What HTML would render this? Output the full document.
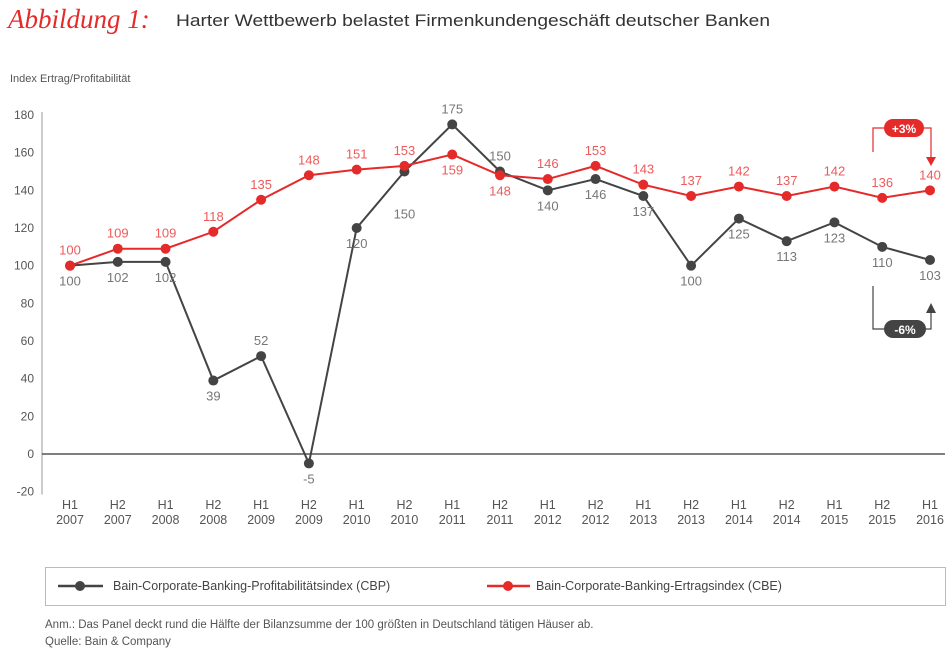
<!DOCTYPE html>
<html><head><meta charset="utf-8"><style>
body{margin:0;background:#fff;width:950px;height:656px;overflow:hidden;font-family:"Liberation Sans",sans-serif;}
</style></head><body>
<svg id="c" width="950" height="656" viewBox="0 0 950 656" xmlns="http://www.w3.org/2000/svg">
<text x="8" y="28" font-family="Liberation Serif,serif" font-style="italic" font-size="27" fill="#e52a2a">Abbildung 1:</text>
<text x="176" y="26" font-size="17" fill="#333" textLength="594" lengthAdjust="spacingAndGlyphs">Harter Wettbewerb belastet Firmenkundengeschäft deutscher Banken</text>
<text x="10" y="82" font-size="11" fill="#555">Index Ertrag/Profitabilität</text>
<g id="axes"></g><g id="series"></g>
<g>
<polyline points="873,152 873,128 931,128 931,158" fill="none" stroke="#e52a2a" stroke-width="1.2"/>
<polygon points="926,157 936,157 931,166" fill="#e52a2a"/>
<rect x="884" y="119" width="40" height="18" rx="9" fill="#e52a2a"/>
<text x="904" y="133" font-size="12" font-weight="bold" fill="#fff" text-anchor="middle">+3%</text>
</g>
<g>
<polyline points="873,286 873,329 931,329 931,312" fill="none" stroke="#444" stroke-width="1.2"/>
<polygon points="926,313 936,313 931,303" fill="#444"/>
<rect x="884" y="320" width="42" height="18" rx="9" fill="#444"/>
<text x="905" y="334" font-size="12" font-weight="bold" fill="#fff" text-anchor="middle">-6%</text>
</g>
<g>
<rect x="45.5" y="567.5" width="900" height="38" fill="#fff" stroke="#bbb"/>
<g>
<line x1="58" y1="586" x2="103" y2="586" stroke="#444" stroke-width="2.5"/><circle cx="80" cy="586" r="5" fill="#444"/>
<text x="113" y="590" font-size="12.5" fill="#444">Bain-Corporate-Banking-Profitabilitätsindex (CBP)</text></g>
<g>
<line x1="487" y1="586" x2="530" y2="586" stroke="#e52a2a" stroke-width="2.5"/><circle cx="508" cy="586" r="5" fill="#e52a2a"/>
<text x="536" y="590" font-size="12.5" fill="#444">Bain-Corporate-Banking-Ertragsindex (CBE)</text></g>
</g>
<text x="45" y="628" font-size="11.5" fill="#555">Anm.: Das Panel deckt rund die Hälfte der Bilanzsumme der 100 größten in Deutschland tätigen Häuser ab.</text>
<text x="45" y="645" font-size="11.5" fill="#555">Quelle: Bain &amp; Company</text>
</svg>
<script>
const categories=["H1 2007","H2 2007","H1 2008","H2 2008","H1 2009","H2 2009","H1 2010","H2 2010","H1 2011","H2 2011","H1 2012","H2 2012","H1 2013","H2 2013","H1 2014","H2 2014","H1 2015","H2 2015","H1 2016"];
const cbp=[100,102,102,39,52,-5,120,150,175,150,140,146,137,100,125,113,123,110,103];
const cbe=[100,109,109,118,135,148,151,153,159,148,146,153,143,137,142,137,142,136,140];
const yTicks=[180,160,140,120,100,80,60,40,20,0,-20];
const cbpLabelSide=["b","b","b","b","a","b","b","bb","a","a","b","b","b","b","b","b","b","b","b"];
const cbeLabelSide=["a","a","a","a","a","a","a","a","b","b","a","a","a","a","a","a","a","a","a"];
const NS="http://www.w3.org/2000/svg";
const x=i=>70+i*(860/(categories.length-1));
const y=v=>454-v*(339/180);
function mk(t,a,p){const e=document.createElementNS(NS,t);for(const k in a)e.setAttribute(k,a[k]);p.appendChild(e);return e;}
const ax=document.getElementById('axes'),sr=document.getElementById('series');
const yl=mk('line',{x1:42,y1:y(180)-3,x2:42,y2:y(-20)+3,stroke:'#999'},ax);


const zl=mk('line',{x1:42,y1:y(0),x2:945,y2:y(0),stroke:'#555','stroke-width':1.5},ax);


yTicks.forEach(v=>{const t=mk('text',{x:34,y:y(v)+4,'font-size':12,fill:'#555','text-anchor':'end'},ax);t.textContent=v;

});
categories.forEach((c,i)=>{const p=c.split(' ');const t=mk('text',{x:x(i),y:509,'font-size':12.5,fill:'#555','text-anchor':'middle'},ax);


mk('tspan',{x:x(i)},t).textContent=p[0];mk('tspan',{x:x(i),dy:15},t).textContent=p[1];});
function draw(vals,col,lcol,side,name){
const g=mk('g',{},sr);


const l=mk('polyline',{points:vals.map((v,i)=>x(i)+','+y(v)).join(' '),fill:'none',stroke:col,'stroke-width':2},g);


vals.forEach((v,i)=>{const c=mk('circle',{cx:x(i),cy:y(v),r:5,fill:col},g);


const dy=side[i]==='a'?-11:(side[i]==='bb'?47:20);
const t=mk('text',{x:x(i),y:y(v)+dy,'font-size':13,fill:lcol,'text-anchor':'middle'},g);t.textContent=v;

});}
draw(cbp,'#444','#777',cbpLabelSide,'cbp');
draw(cbe,'#e52a2a','#ee5a5a',cbeLabelSide,'cbe');
</script>
</body></html>
